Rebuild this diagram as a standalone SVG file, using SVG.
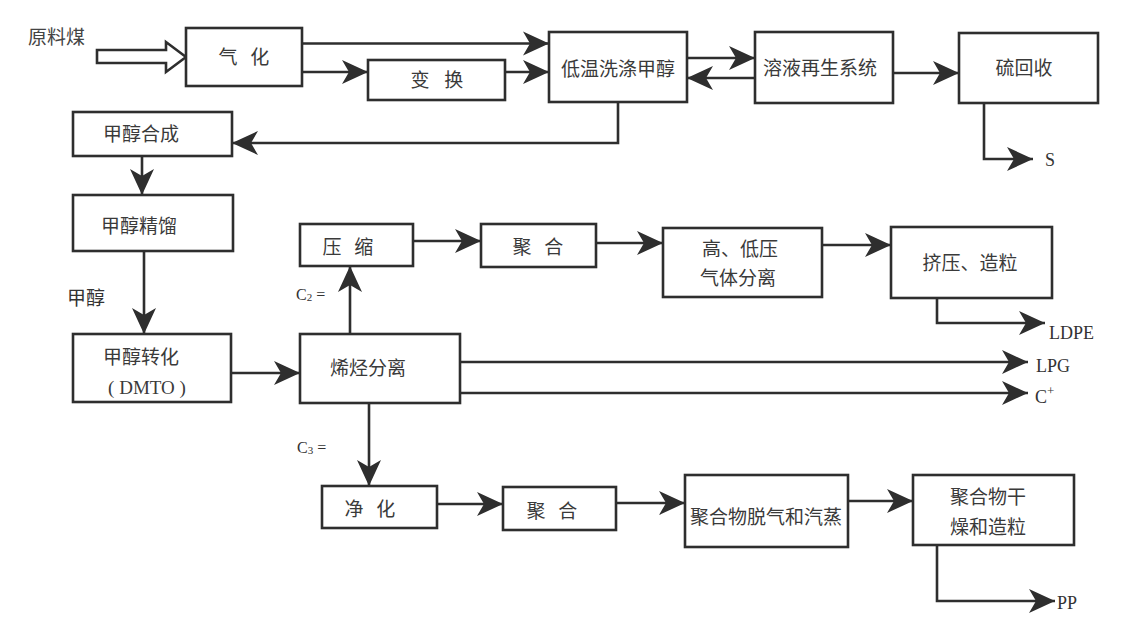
<svg xmlns="http://www.w3.org/2000/svg" width="1135" height="624" viewBox="0 0 1135 624">
<style>
.box{fill:#ffffff;stroke:#2e2e2e;stroke-width:2.6}
.ln{fill:none;stroke:#2e2e2e;stroke-width:2.6;marker-end:url(#ah)}
.t{font-family:"Liberation Serif","Noto Sans CJK SC",serif;font-size:19px;fill:#3a3a3a;text-anchor:middle;dominant-baseline:central}
.lbl{font-family:"Liberation Serif","Noto Sans CJK SC",serif;font-size:18px;fill:#333333;dominant-baseline:central}
</style>
<defs>
<marker id="ah" markerUnits="userSpaceOnUse" markerWidth="28" markerHeight="26" refX="26" refY="13" orient="auto">
<path d="M0,1 L26,13 L0,25 L7,13 Z" fill="#2e2e2e"/>
</marker>
</defs>
<rect width="1135" height="624" fill="#ffffff"/>

<g id="connectors">
<polygon points="97,50 166,50 166,42 186,57 166,72 166,63 97,63" fill="#ffffff" stroke="#2e2e2e" stroke-width="2.6"/>
<path class="ln" d="M302,43.5 L549,43.5"/>
<path class="ln" d="M302,72 L368,72"/>
<path class="ln" d="M505,72 L549,72"/>
<path class="ln" d="M687,58 L755,58"/>
<path class="ln" d="M755,78 L687,78"/>
<path class="ln" d="M618,102 L618,143 L232,143"/>
<path class="ln" d="M893,73 L959,73"/>
<path class="ln" d="M984,103 L984,159 L1033,159"/>
<path class="ln" d="M142,156 L142,195"/>
<path class="ln" d="M144,251 L144,334"/>
<path class="ln" d="M231,373 L300,373"/>
<path class="ln" d="M350,334 L350,266"/>
<path class="ln" d="M413,241 L481,241"/>
<path class="ln" d="M596,243 L663,243"/>
<path class="ln" d="M822,245 L891,245"/>
<path class="ln" d="M937,298 L937,323 L1045,323"/>
<path class="ln" d="M460,362 L1028,362"/>
<path class="ln" d="M460,393 L1028,393"/>
<path class="ln" d="M369,403 L369,486"/>
<path class="ln" d="M437,504 L503,504"/>
<path class="ln" d="M616,503 L685,503"/>
<path class="ln" d="M848,501 L913,501"/>
<path class="ln" d="M937,545 L937,601 L1055,601"/>
</g>

<g id="labels">
<text class="lbl" x="28" y="37" style="font-size:19px;fill:#444">原料煤</text>
<text class="lbl" x="67" y="298" style="font-size:19px">甲醇</text>
<text class="lbl" x="296" y="294" style="font-size:16px">C<tspan font-size="11" dy="3">2</tspan><tspan dy="-3"> =</tspan></text>
<text class="lbl" x="297" y="447" style="font-size:16px">C<tspan font-size="11" dy="3">3</tspan><tspan dy="-3"> =</tspan></text>
<text class="lbl" x="1045" y="160">S</text>
<text class="lbl" x="1049" y="333">LDPE</text>
<text class="lbl" x="1036" y="366">LPG</text>
<text class="lbl" x="1035" y="397">C<tspan font-size="13" dy="-7">+</tspan></text>
<text class="lbl" x="1057" y="603">PP</text>
</g>

<g id="n-qihua"><rect class="box" x="186" y="28" width="116" height="58"/><text class="t" x="244" y="57" word-spacing="8">气 化</text></g>
<g id="n-bianhuan"><rect class="box" x="368" y="60" width="137" height="40"/><text class="t" x="437" y="80" word-spacing="10">变 换</text></g>
<g id="n-diwen"><rect class="box" x="549" y="32" width="138" height="70"/><text class="t" x="618" y="69">低温洗涤甲醇</text></g>
<g id="n-rongye"><rect class="box" x="755" y="32" width="138" height="71"/><text class="t" x="820" y="68">溶液再生系统</text></g>
<g id="n-liu"><rect class="box" x="959" y="33" width="139" height="70"/><text class="t" x="1024" y="68">硫回收</text></g>
<g id="n-hecheng"><rect class="box" x="73" y="112" width="159" height="44"/><text class="t" x="141" y="134">甲醇合成</text></g>
<g id="n-jingliu"><rect class="box" x="73" y="195" width="160" height="56"/><text class="t" x="139" y="226">甲醇精馏</text></g>
<g id="n-zhuanhua"><rect class="box" x="73" y="334" width="158" height="68"/><text class="t" x="141" y="357">甲醇转化</text><text class="t" x="147" y="387">( DMTO )</text></g>
<g id="n-xiting"><rect class="box" x="300" y="334" width="160" height="69"/><text class="t" x="368" y="368">烯烃分离</text></g>
<g id="n-yasuo"><rect class="box" x="300" y="224" width="113" height="42"/><text class="t" x="348" y="247" word-spacing="8">压 缩</text></g>
<g id="n-juhe1"><rect class="box" x="481" y="224" width="115" height="43"/><text class="t" x="538" y="247" word-spacing="8">聚 合</text></g>
<g id="n-gaodiya"><rect class="box" x="663" y="228" width="159" height="69"/><text class="t" x="740" y="249">高、低压</text><text class="t" x="738" y="278">气体分离</text></g>
<g id="n-jiya"><rect class="box" x="891" y="227" width="161" height="71"/><text class="t" x="970" y="263">挤压、造粒</text></g>
<g id="n-jinghua"><rect class="box" x="322" y="486" width="115" height="42"/><text class="t" x="370" y="509" word-spacing="8">净 化</text></g>
<g id="n-juhe2"><rect class="box" x="503" y="487" width="113" height="43"/><text class="t" x="552" y="511" word-spacing="8">聚 合</text></g>
<g id="n-tuoqi"><rect class="box" x="685" y="475" width="163" height="72"/><text class="t" x="766" y="517">聚合物脱气和汽蒸</text></g>
<g id="n-ganzao"><rect class="box" x="913" y="475" width="161" height="70"/><text class="t" x="988" y="497">聚合物干</text><text class="t" x="988" y="527">燥和造粒</text></g>
</svg>
